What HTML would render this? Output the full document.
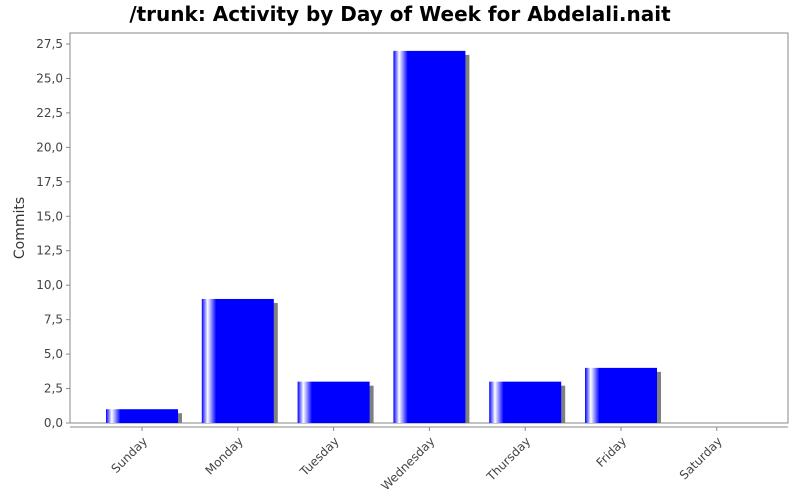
<!DOCTYPE html>
<html><head><meta charset="utf-8"><style>
body{margin:0;background:#fff;}
svg{display:block;font-family:"DejaVu Sans","Liberation Sans",sans-serif;}
</style></head><body>
<svg id="c" width="800" height="500">
<defs>
<linearGradient id="g" x1="0" x2="1" y1="0" y2="0">
<stop offset="0" stop-color="#0000ff"/>
<stop offset="0.08" stop-color="#ffffff"/>
<stop offset="0.2" stop-color="#0000ff"/>
<stop offset="1" stop-color="#0000ff"/>
</linearGradient>
</defs>
<text x="400" y="21" text-anchor="middle" font-size="20" font-weight="bold" fill="#000">/trunk: Activity by Day of Week for Abdelali.nait</text>
<rect x="70" y="33" width="718" height="390" fill="#fff" stroke="#888" stroke-width="1"/>
<text transform="translate(24,228) rotate(-90)" text-anchor="middle" font-size="14" fill="#333">Commits</text>
<g id="yaxis"></g>
<g id="bars"></g>
<g id="xaxis"></g>
</svg>
<script>
const categories=["Sunday","Monday","Tuesday","Wednesday","Thursday","Friday","Saturday"];
const values=[1,9,3,27,3,4,0];
const yTicks=[0,2.5,5,7.5,10,12.5,15,17.5,20,22.5,25,27.5];
const NS="http://www.w3.org/2000/svg";
const y0=423, yTop=44, vmax=27.5;
function yS(v){return y0-(v/vmax)*(y0-yTop);}
const step=95.8, firstCenter=142, bw=72;
function xC(i){return firstCenter+i*step;}
function mk(t,a){const e=document.createElementNS(NS,t);for(const k in a)e.setAttribute(k,a[k]);return e;}
const ya=document.getElementById('yaxis');
ya.appendChild(mk('line',{x1:70,y1:33,x2:70,y2:423,stroke:'#888'}));
yTicks.forEach(t=>{
  const y=yS(t);
  const l=mk('line',{x1:66,y1:y,x2:70,y2:y,stroke:'#888'});
  
  
  ya.appendChild(l);
  const tx=mk('text',{x:63,y:y+4,'text-anchor':'end','font-size':'12',fill:'#444'});
  tx.textContent=t.toFixed(1).replace('.',',');
  
  
  ya.appendChild(tx);
});
const bg=document.getElementById('bars');
values.forEach((v,i)=>{
  if(v<=0)return;
  const x=xC(i)-bw/2, y=yS(v), h=y0-y;
  const s=mk('rect',{x:x+4,y:y+4,width:bw,height:h-4,fill:'#808080'});
  
  
  bg.appendChild(s);
  const r=mk('rect',{x:x,y:y,width:bw,height:h,fill:'url(#g)'});
  
  
  bg.appendChild(r);
});
const xa=document.getElementById('xaxis');
xa.appendChild(mk('line',{x1:70,y1:427,x2:788,y2:427,stroke:'#888'}));
categories.forEach((c,i)=>{
  const x=xC(i);
  xa.appendChild(mk('line',{x1:x,y1:427,x2:x,y2:431,stroke:'#888'}));
  const t=mk('text',{x:x+6,y:442,'text-anchor':'end','font-size':'12',fill:'#444',transform:`rotate(-45 ${x+6} 442)`});
  t.textContent=c;
  
  
  xa.appendChild(t);
});
</script>
</body></html>
